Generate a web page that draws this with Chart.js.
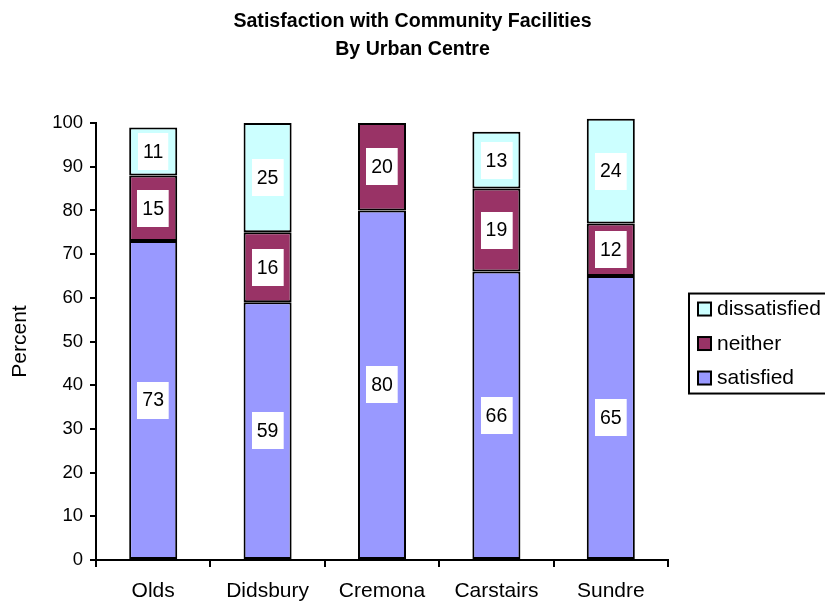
<!DOCTYPE html>
<html>
<head>
<meta charset="utf-8">
<script src="https://cdn.jsdelivr.net/npm/chart.js@4/dist/chart.umd.min.js"></script>
<style>
  html, body { margin: 0; padding: 0; background: #fff; }
</style>
</head>
<body>
<canvas id="facilitiesChart" width="825" height="602"></canvas>
<script>
const categories = ['Olds', 'Didsbury', 'Cremona', 'Carstairs', 'Sundre'];
const satisfied = [73, 59, 80, 66, 65];
const neither = [15, 16, 20, 19, 12];
const dissatisfied = [11, 25, null, 13, 24];
const yMax = 100;
const yStep = 10;

const FONT = 'Liberation Sans, Arial, sans-serif';

// white boxes with the value in the middle of each segment
const segmentLabels = {
    id: 'segmentLabels',
    afterDatasetsDraw(chart) {
        const ctx = chart.ctx;
        ctx.save();
        ctx.font = '19.5px ' + FONT;
        ctx.textAlign = 'center';
        ctx.textBaseline = 'middle';
        chart.data.datasets.forEach((ds, i) => {
            const meta = chart.getDatasetMeta(i);
            meta.data.forEach((bar, j) => {
                const v = ds.data[j];
                if (v == null) return;
                const cy = (bar.y + bar.base) / 2;
                const text = String(v);
                const w = ctx.measureText(text).width + 10;
                const h = 37;
                ctx.fillStyle = '#fff';
                ctx.fillRect(Math.round(bar.x - w / 2), Math.round(cy - h / 2), w, h);
                ctx.fillStyle = '#000';
                ctx.fillText(text, bar.x, cy + 1);
            });
        });
        ctx.restore();
    }
};

// legend in a framed box on the right, like the original
const boxedLegend = {
    id: 'boxedLegend',
    afterDraw(chart) {
        const ctx = chart.ctx;
        const area = chart.chartArea;
        const left = area.right + 21;
        const top = (area.top + area.bottom) / 2 - 48;
        ctx.save();
        ctx.lineWidth = 2;
        ctx.strokeStyle = '#000';
        ctx.strokeRect(left, top, 160, 100);
        ctx.font = '21px ' + FONT;
        ctx.textBaseline = 'middle';
        ctx.textAlign = 'left';
        const order = chart.data.datasets.map((d, i) => i).reverse();
        order.forEach((idx, k) => {
            const ds = chart.data.datasets[idx];
            const cy = top + 15 + k * 34.5;
            ctx.fillStyle = ds.backgroundColor;
            ctx.fillRect(left + 9, cy - 6, 13, 13);
            ctx.lineWidth = 2;
            ctx.strokeRect(left + 9, cy - 6, 13, 13);
            ctx.fillStyle = '#000';
            ctx.fillText(ds.label, left + 28, cy + 1);
        });
        ctx.restore();
    }
};

// centre the title over the whole canvas, not just the part left of the legend
const fullWidthTitle = {
    id: 'fullWidthTitle',
    afterLayout(chart) {
        const t = chart.titleBlock;
        if (t) {
            t.left = 0;
            t.right = chart.width;
            t.width = chart.width;
        }
    }
};

const ctx = document.getElementById('facilitiesChart').getContext('2d');

new Chart(ctx, {
    type: 'bar',
    data: {
        labels: categories,
        datasets: [
            {
                label: 'satisfied',
                data: satisfied,
                backgroundColor: '#9999FF',
                borderColor: '#000',
                borderWidth: 2,
                borderSkipped: false,
                clip: false
            },
            {
                label: 'neither',
                data: neither,
                backgroundColor: '#993366',
                borderColor: '#000',
                borderWidth: 2,
                borderSkipped: false,
                clip: false
            },
            {
                label: 'dissatisfied',
                data: dissatisfied,
                backgroundColor: '#CCFFFF',
                borderColor: '#000',
                borderWidth: 2,
                borderSkipped: false,
                clip: false
            }
        ]
    },
    options: {
        responsive: false,
        animation: false,
        datasets: {
            bar: {
                barPercentage: 0.42,
                categoryPercentage: 1.0
            }
        },
        layout: {
            padding: { top: 0, right: 157, bottom: 0, left: 0 }
        },
        scales: {
            x: {
                stacked: true,
                offset: true,
                grid: {
                    offset: true,
                    drawOnChartArea: false,
                    drawTicks: true,
                    tickLength: 7,
                    color: '#000',
                    lineWidth: 2
                },
                border: { color: '#000', width: 2 },
                ticks: {
                    color: '#000',
                    font: { family: FONT, size: 21 },
                    padding: 12
                },
                afterFit(scale) { scale.height = 42; }
            },
            y: {
                stacked: true,
                min: 0,
                max: yMax,
                grid: {
                    drawOnChartArea: false,
                    drawTicks: true,
                    tickLength: 6,
                    color: '#000',
                    lineWidth: 2
                },
                border: { color: '#000', width: 2 },
                ticks: {
                    stepSize: yStep,
                    color: '#000',
                    font: { family: FONT, size: 18.5 },
                    padding: 7
                },
                title: {
                    display: true,
                    text: 'Percent',
                    color: '#000',
                    font: { family: FONT, size: 21 },
                    padding: { top: 8, bottom: 0 }
                },
                afterFit(scale) { scale.width = 96; }
            }
        },
        plugins: {
            legend: { display: false },
            tooltip: { enabled: false },
            title: {
                display: true,
                text: ['Satisfaction with Community Facilities', 'By Urban Centre'],
                color: '#000',
                font: { family: FONT, size: 19.6, weight: 'bold', lineHeight: 1.43 },
                padding: { top: 8, bottom: 59 }
            }
        }
    },
    plugins: [fullWidthTitle, segmentLabels, boxedLegend]
});
</script>
</body>
</html>
